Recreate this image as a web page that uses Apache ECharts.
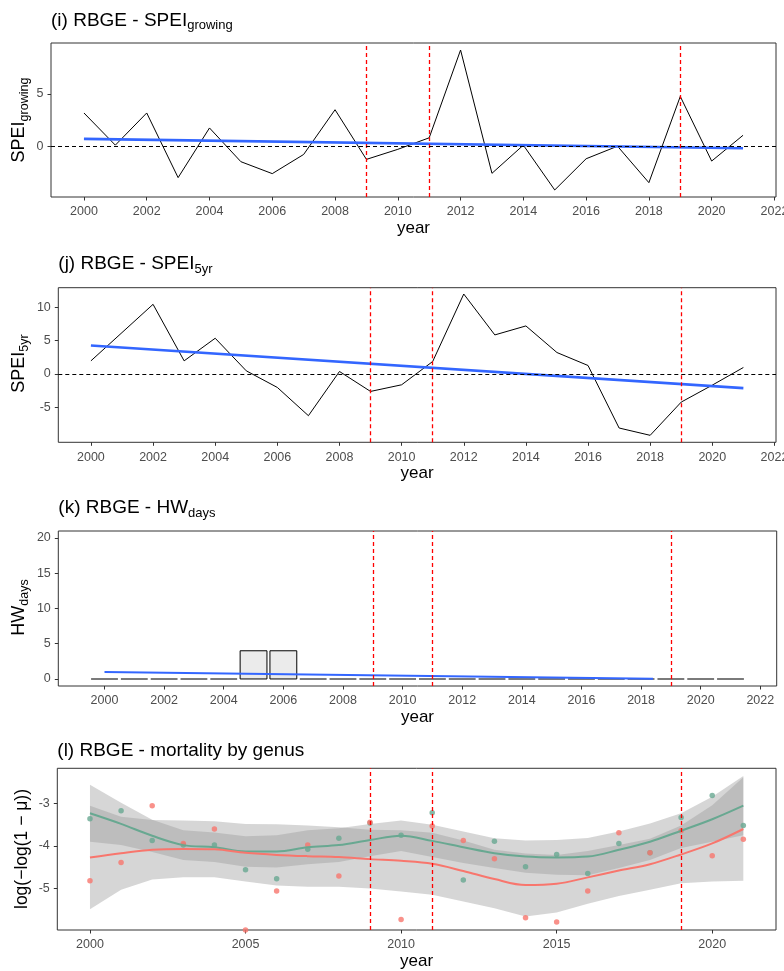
<!DOCTYPE html>
<html><head><meta charset="utf-8">
<script src="https://cdn.jsdelivr.net/npm/echarts@6/dist/echarts.min.js"></script>
<style>html,body{margin:0;padding:0;background:#fff}#c{width:784px;height:971px}</style>
</head><body><div id="c"></div>
<script>
// ---------------- data ----------------
const years = [2000,2001,2002,2003,2004,2005,2006,2007,2008,2009,2010,2011,2012,2013,2014,2015,2016,2017,2018,2019,2020,2021];
const eventYears = [2009, 2011, 2019];

// (i) SPEI growing
const speiGrowing = [3.17,0.1,3.17,-3.0,1.74,-1.48,-2.62,-0.79,3.48,-1.26,-0.3,0.8,9.18,-2.59,0.1,-4.18,-1.2,0.0,-3.48,4.75,-1.42,1.04];
const trendYears = [2000, 2021];
const speiGrowingTrend = [0.7, -0.2];

// (j) SPEI 5yr
const spei5yr = [1.95,6.2,10.45,1.95,5.35,0.45,-2.05,-6.3,0.35,-2.65,-1.65,1.85,12.0,5.85,7.2,3.2,1.25,-8.15,-9.25,-4.25,-1.7,0.95];
const spei5yrTrend = [4.25, -2.15];

// (k) HW days
const hwDays = [0,0,0,0,0,4,4,0,0,0,0,0,0,0,0,0,0,0,0,0,0,0];
const hwTrendYears = [2000, 2018.4];
const hwTrend = [1.0, 0.02];

// (l) mortality by genus (two groups)
const groupAPoints = [-3.36,-3.17,-3.87,-3.98,-3.98,-4.56,-4.77,-4.08,-3.82,-3.46,-3.75,-3.22,-4.8,-3.89,-4.49,-4.2,-4.65,-3.94,-4.16,-3.33,-2.81,-3.52];
const groupBPoints = [-4.82,-4.39,-3.05,-3.94,-3.6,-5.98,-5.06,-3.98,-4.71,-3.44,-5.73,-3.53,-3.87,-4.3,-5.69,-5.79,-5.06,-3.69,-4.16,-3.64,-4.23,-3.84];
const groupAFit = [-3.23,-3.48,-3.76,-3.98,-4.03,-4.13,-4.13,-4.03,-3.98,-3.86,-3.76,-3.88,-4.03,-4.17,-4.25,-4.27,-4.25,-4.09,-3.9,-3.64,-3.37,-3.05];
const groupBFit = [-4.27,-4.17,-4.09,-4.07,-4.08,-4.16,-4.21,-4.24,-4.26,-4.31,-4.35,-4.42,-4.59,-4.78,-4.92,-4.89,-4.74,-4.58,-4.43,-4.2,-3.94,-3.6];
const groupAHalfCI = [0.67,0.5,0.38,0.35,0.35,0.36,0.38,0.4,0.4,0.38,0.36,0.38,0.37,0.35,0.38,0.41,0.44,0.43,0.43,0.41,0.53,0.7];
const groupBHalfCI = [1.22,0.86,0.7,0.67,0.66,0.68,0.72,0.72,0.7,0.69,0.72,0.73,0.72,0.69,0.74,0.68,0.62,0.6,0.6,0.68,0.9,1.22];

// tick labels
const xTicks2 = [2000,2002,2004,2006,2008,2010,2012,2014,2016,2018,2020,2022];
const xTicks5 = [2000,2005,2010,2015,2020];
const yTicksI = [0,5];
const yTicksJ = [-5,0,5,10];
const yTicksK = [0,5,10,15,20];
const yTicksL = [-5,-4,-3];

// ---------------- style ----------------
const FONT = '"Liberation Sans", Arial, sans-serif';
const TICK_COLOR = '#4D4D4D';
const BORDER = '#333333';
const TEAL = '#68A891';
const RED = '#F8766D';
const BLUE = '#3366FF';

const pairs = (xs, ys) => xs.map((x, i) => [x, ys[i]]);

function grid(left, top, width, height) {
  return {left, top, width, height, show: true, borderColor: BORDER, borderWidth: 1,
          backgroundColor: 'transparent', containLabel: false, outerBoundsMode: 'none'};
}
function xAxisDef(gi, min, max, ticks) {
  return {type: 'value', gridIndex: gi, min, max, position: 'bottom', name: 'year', nameLocation: 'middle', nameGap: 21,
    nameTextStyle: {fontSize: 17, color: '#000', fontFamily: FONT},
    axisLine: {show: false, onZero: false}, splitLine: {show: false},
    axisTick: {show: true, inside: false, length: 3.5, customValues: ticks, lineStyle: {color: BORDER}},
    axisLabel: {show: true, margin: 8.5, customValues: ticks, color: TICK_COLOR, fontSize: 12.5, fontFamily: FONT,
      formatter: v => String(v)}};
}
function yAxisDef(gi, min, max, ticks) {
  return {type: 'value', gridIndex: gi, min, max, position: 'left',
    axisLine: {show: false, onZero: false}, splitLine: {show: false},
    axisTick: {show: true, inside: false, length: 3.5, customValues: ticks, lineStyle: {color: BORDER}},
    axisLabel: {show: true, margin: 7.5, customValues: ticks, color: TICK_COLOR, fontSize: 12.5, fontFamily: FONT,
      formatter: v => String(v)}};
}
const redDash = {color: '#FF0000', type: [4, 3], width: 1.3, opacity: 1};
const vLines = (extra) => ({
  symbol: ['none', 'none'], silent: true, animation: false, label: {show: false},
  lineStyle: redDash,
  emphasis: {disabled: true},
  data: eventYears.map(y => ({xAxis: y, lineStyle: redDash})).concat(extra || [])
});
const zeroLine = {yAxis: 0, lineStyle: {color: '#000000', type: [4, 3], width: 1, opacity: 1}};

function titleText(x, y, main, sub) {
  return {type: 'text', x, y, silent: true,
    style: {text: sub ? '{m|' + main + '}{s|' + sub + '}' : '{m|' + main + '}', align: 'left', verticalAlign: 'middle',
      rich: {m: {fontSize: 19, fontFamily: FONT, fill: '#000', lineHeight: 24},
             s: {fontSize: 13, fontFamily: FONT, fill: '#000', lineHeight: 11, verticalAlign: 'bottom'}}}};
}
function yTitle(x, y, main, sub, size) {
  return {type: 'text', x, y, rotation: Math.PI / 2, silent: true,
    style: {text: sub ? '{m|' + main + '}{s|' + sub + '}' : '{m|' + main + '}', align: 'center', verticalAlign: 'middle',
      rich: {m: {fontSize: size || 18, fontFamily: FONT, fill: '#000', lineHeight: 24},
             s: {fontSize: 12.5, fontFamily: FONT, fill: '#000', lineHeight: 11, verticalAlign: 'bottom'}}}};
}
function ribbon(gi, xs, center, half) {
  return {type: 'custom', xAxisIndex: gi, yAxisIndex: gi, silent: true, data: [[xs[0], center[0]]],
    renderItem: function (params, api) {
      const pts = [];
      for (let i = 0; i < xs.length; i++) pts.push(api.coord([xs[i], center[i] + half[i]]));
      for (let i = xs.length - 1; i >= 0; i--) pts.push(api.coord([xs[i], center[i] - half[i]]));
      return {type: 'polygon', shape: {points: pts}, style: {fill: 'rgba(153,153,153,0.4)'}};
    }};
}

const option = {
  animation: false,
  backgroundColor: '#fff',
  grid: [grid(51, 43, 725, 154), grid(58.3, 287.7, 717.7, 154.6), grid(58.3, 531, 718.4, 155), grid(57.3, 768.3, 718.7, 161.7)],
  xAxis: [xAxisDef(0, 1998.95, 2022.05, xTicks2), xAxisDef(1, 1998.95, 2022.05, xTicks2),
          xAxisDef(2, 1998.45, 2022.55, xTicks2), xAxisDef(3, 1998.95, 2022.05, xTicks5)],
  yAxis: [yAxisDef(0, -4.85, 9.85, yTicksI), yAxisDef(1, -10.3, 12.95, yTicksJ),
          yAxisDef(2, -1, 21, yTicksK), yAxisDef(3, -5.98, -2.17, yTicksL)],
  graphic: [
    titleText(51, 20.3, '(i) RBGE - SPEI', 'growing'),
    titleText(58.3, 263.7, '(j) RBGE - SPEI', '5yr'),
    titleText(58.3, 507.5, '(k) RBGE - HW', 'days'),
    titleText(57.3, 750.8, '(l) RBGE - mortality by genus', null),
    yTitle(19.2, 120, 'SPEI', 'growing'),
    yTitle(19.2, 363.5, 'SPEI', '5yr'),
    yTitle(19.2, 607.5, 'HW', 'days'),
    yTitle(22, 849, 'log(\u2212log(1 \u2212 \u03bc))', null, 17.5)
  ],
  series: [
    // (i)
    {type: 'line', xAxisIndex: 0, yAxisIndex: 0, data: pairs(years, speiGrowing), showSymbol: false,
     lineStyle: {color: '#000', width: 1}, markLine: vLines([zeroLine])},
    {type: 'line', xAxisIndex: 0, yAxisIndex: 0, data: pairs(trendYears, speiGrowingTrend), showSymbol: false,
     lineStyle: {color: BLUE, width: 2.6}},
    // (j)
    {type: 'line', xAxisIndex: 1, yAxisIndex: 1, data: pairs(years, spei5yr), showSymbol: false,
     lineStyle: {color: '#000', width: 1}, markLine: vLines([zeroLine])},
    {type: 'line', xAxisIndex: 1, yAxisIndex: 1, data: pairs(trendYears, spei5yrTrend), showSymbol: false,
     lineStyle: {color: BLUE, width: 2.6}},
    // (k)
    {type: 'custom', xAxisIndex: 2, yAxisIndex: 2, data: pairs(years, hwDays), silent: true,
     renderItem: function (params, api) {
       const x = api.value(0), v = api.value(1);
       const p0 = api.coord([x - 0.45, v]);
       const p1 = api.coord([x + 0.45, 0]);
       const flat = v === 0;
       return {type: 'rect', shape: {x: p0[0], y: p0[1], width: p1[0] - p0[0], height: p1[1] - p0[1]},
               style: {fill: '#EBEBEB', stroke: flat ? '#7A7A7A' : '#000', lineWidth: flat ? 2 : 1}};
     }, markLine: vLines()},
    {type: 'line', xAxisIndex: 2, yAxisIndex: 2, data: pairs(hwTrendYears, hwTrend), showSymbol: false,
     lineStyle: {color: BLUE, width: 2}},
    // (l)
    {type: 'scatter', xAxisIndex: 3, yAxisIndex: 3, data: pairs(years, groupAPoints), symbolSize: 5.5,
     itemStyle: {color: TEAL}},
    {type: 'scatter', xAxisIndex: 3, yAxisIndex: 3, data: pairs(years, groupBPoints), symbolSize: 5.5,
     itemStyle: {color: RED}},
    ribbon(3, years, groupAFit, groupAHalfCI),
    ribbon(3, years, groupBFit, groupBHalfCI),
    {type: 'line', xAxisIndex: 3, yAxisIndex: 3, data: pairs(years, groupAFit), showSymbol: false, smooth: 0.35,
     lineStyle: {color: TEAL, width: 2}},
    {type: 'line', xAxisIndex: 3, yAxisIndex: 3, data: pairs(years, groupBFit), showSymbol: false, smooth: 0.35,
     lineStyle: {color: RED, width: 2}, markLine: vLines()}
  ]
};
const chart = echarts.init(document.getElementById('c'), null, {renderer: 'canvas', width: 784, height: 971});
chart.setOption(option);
</script>
</body></html>
